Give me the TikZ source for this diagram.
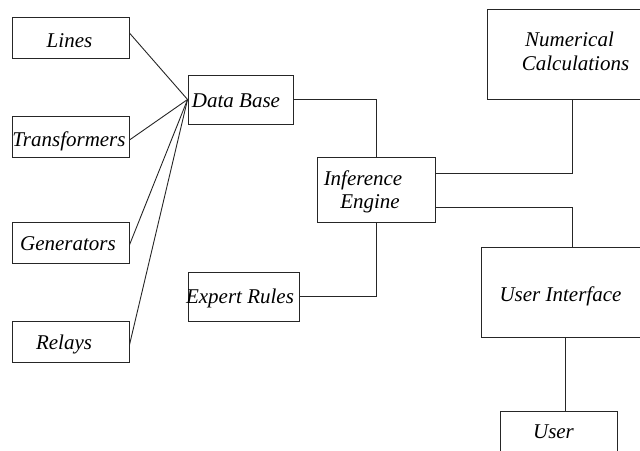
\documentclass[tikz,border=0pt]{standalone}
\usepackage{fontspec}
\setmainfont{Liberation Serif}
\begin{document}
\begin{tikzpicture}[x=1pt,y=-1pt,
  box/.style={draw=black!85, line width=0.9pt, rectangle, inner sep=0pt},
  lbl/.style={inner sep=0pt, anchor=base, font=\fontsize{21}{24}\selectfont\itshape},
  wire/.style={draw=black!85, line width=0.9pt}]
\useasboundingbox (0,0) rectangle (640,450);
\clip (0,0) rectangle (640,450);

% component boxes (west to east)
\node[box, minimum width=117pt, minimum height=41pt] (lines) at (70.5,37.5) {};
\node[box, minimum width=117pt, minimum height=41pt] (trans) at (70.5,136.5) {};
\node[box, minimum width=117pt, minimum height=41pt] (gen)   at (70.5,242.5) {};
\node[box, minimum width=117pt, minimum height=41pt] (relay) at (70.5,341.5) {};
\node[box, minimum width=105pt, minimum height=49pt] (db)    at (240.5,99.5) {};
\node[box, minimum width=111pt, minimum height=49pt] (er)    at (243.5,296.5) {};
\node[box, minimum width=118pt, minimum height=65pt] (ie)    at (376,189.5) {};
\node[box, minimum width=180pt, minimum height=90pt] (nc)    at (577,54) {};
\node[box, minimum width=180pt, minimum height=90pt] (ui)    at (571,292) {};
\node[box, minimum width=117pt, minimum height=60pt] (user)  at (558.5,441) {};

% labels
\node[lbl] (tlines) at (69.5,47)  {Lines};
\node[lbl] (ttrans) at (69,146)   {Transformers};
\node[lbl] (tgen)   at (68,250)   {Generators};
\node[lbl] (trelay) at (64,349)   {Relays};
\node[lbl] (tdb)    at (236,107)  {Data Base};
\node[lbl] (ter)    at (240,303)  {Expert Rules};
\node[lbl] (tie1)   at (363,185)  {Inference};
\node[lbl] (tie2)   at (370,208)  {Engine};
\node[lbl] (tnc1)   at (569.5,46) {Numerical};
\node[lbl] (tnc2)   at (575.5,70) {Calculations};
\node[lbl] (tui)    at (560.5,301){User Interface};
\node[lbl] (tuser)  at (553.5,438){User};

% connection points
\coordinate (ncS)  at (572,99);
\coordinate (uiN)  at (572,247);
\coordinate (uiS)  at (565,337);
\coordinate (usrN) at (565,411);
\coordinate (ieE1) at (435,173);
\coordinate (ieE2) at (435,207);

% fan-in to the data base
\draw[wire] ([yshift=4.5pt]lines.east) -- (db.west);
\draw[wire] ([yshift=-3.5pt]trans.east) -- (db.west);
\draw[wire] ([yshift=-2.5pt]gen.east) -- (db.west);
\draw[wire] ([yshift=-3.5pt]relay.east) -- (db.west);

% orthogonal links around the inference engine
\draw[wire] (db.east) -| (ie.north);
\draw[wire] (er.east) -| (ie.south);
\draw[wire] (ieE1) -| (ncS);
\draw[wire] (ieE2) -| (uiN);
\draw[wire] (uiS) -- (usrN);
\end{tikzpicture}
\end{document}
